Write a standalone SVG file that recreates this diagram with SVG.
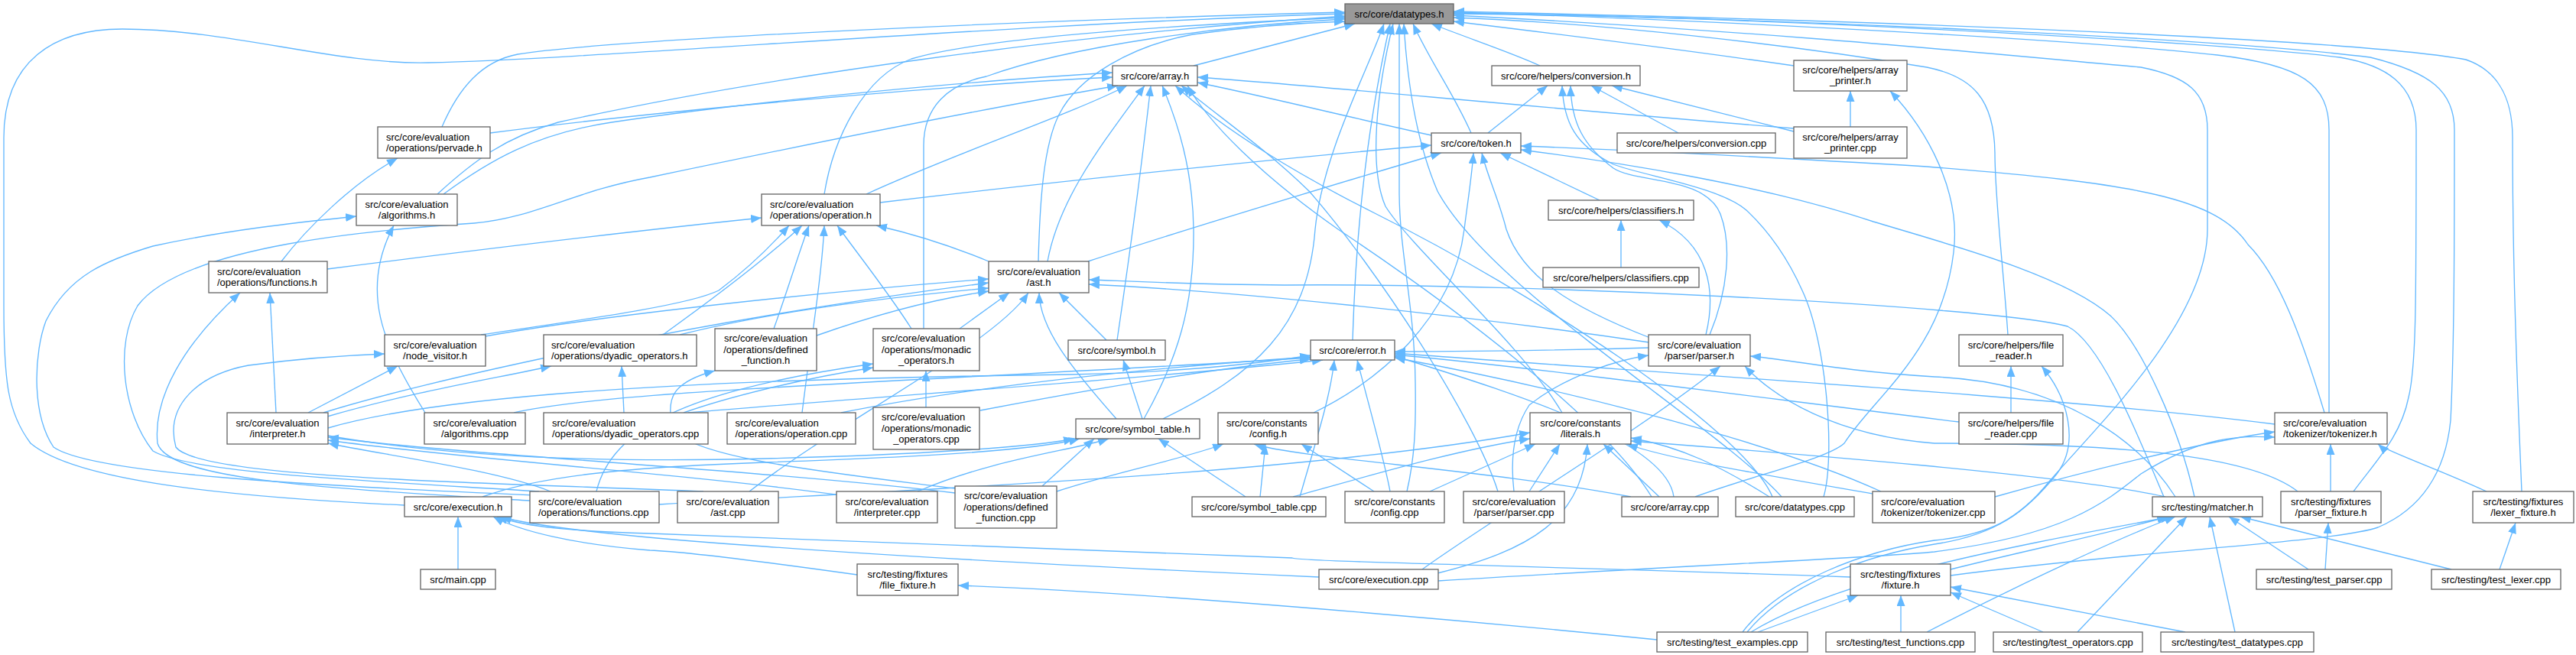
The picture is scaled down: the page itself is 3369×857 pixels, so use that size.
<svg xmlns="http://www.w3.org/2000/svg" width="3369" height="857" viewBox="0 0 3369 857">
<style>
.n rect{fill:#fff;stroke:#666;stroke-width:1.33}
.n text{font-family:"Liberation Sans",Arial,Helvetica,sans-serif;font-size:13px;fill:#000;text-anchor:middle}
.n text.l{text-anchor:start}
.e path{fill:none;stroke:#63b8ff;stroke-width:1.33;marker-end:url(#a)}
</style>
<defs><marker id="a" markerUnits="userSpaceOnUse" markerWidth="15" markerHeight="12" refX="14" refY="5.5" orient="auto"><path d="M0,0 L14,5.5 L0,11 z" fill="#63b8ff"/></marker></defs>
<rect width="3369" height="857" fill="#fff"/>
<g id="edges" class="e">
<path d="M1561,86 C1630,68 1700,50 1772,31"/>
<path d="M2014,86 C1980,70 1920,50 1872,31"/>
<path d="M2346,86 C2200,65 2000,40 1901,28"/>
<path d="M1924,174 C1900,120 1870,80 1848,31"/>
<path d="M1769,445 C1772,350 1780,200 1818,31"/>
<path d="M1521,548 C1640,490 1710,430 1720,300 C1730,200 1790,90 1810,31"/>
<path d="M1840,643 C1850,600 1852,560 1851,500 C1850,400 1830,330 1830,250 L1830,31"/>
<path d="M578,166 C600,115 630,80 677,71 C800,52 1300,28 1759,16"/>
<path d="M529,661 C300,650 100,630 40,580 C10,540 5,500 5,400 L5,180 C5,80 70,38 160,38 C300,38 440,85 560,82 C800,76 1300,32 1759,18"/>
<path d="M572,254 C620,210 660,180 730,160 C1000,100 1400,45 1759,21"/>
<path d="M1078,254 C1090,180 1130,100 1192,77 C1300,45 1600,30 1759,23"/>
<path d="M1208,430 L1208,190 C1208,140 1240,110 1290,100 C1400,60 1600,33 1759,25"/>
<path d="M1358,342 C1360,260 1365,190 1385,150 C1410,100 1480,60 1560,45 C1640,34 1700,30 1759,28"/>
<path d="M2626,438 C2620,350 2609,260 2609,200 C2608,130 2580,100 2520,88 C2350,60 2100,30 1901,23"/>
<path d="M3046,540 L3046,170 C3046,110 3010,85 2900,72 C2700,50 2200,25 1901,16"/>
<path d="M3078,643 C3110,600 3140,570 3150,520 C3160,480 3160,400 3160,170 C3160,110 3120,85 3060,75 C2900,55 2300,22 1901,17"/>
<path d="M2551,753 C2800,720 3050,710 3110,690 C3180,660 3200,600 3205,550 C3210,450 3210,300 3210,170 C3210,120 3180,95 3100,75 C2900,50 2300,22 1901,18"/>
<path d="M3298,643 C3292,500 3286,350 3286,180 C3286,120 3260,90 3225,78 C3100,55 2600,30 1901,15"/>
<path d="M2279,827 C2330,760 2440,720 2530,707 C2600,700 2640,680 2680,630 C2740,560 2887,420 2887,300 L2887,170 C2887,120 2860,100 2800,88 C2600,70 2300,40 1901,20"/>
<path d="M2043,540 C1990,450 1850,330 1812,270 C1790,220 1800,120 1822,31"/>
<path d="M2330,650 C2250,560 1950,380 1880,250 C1850,180 1840,100 1836,31"/>
<path d="M641,174 C900,140 1300,108 1455,101"/>
<path d="M580,254 C640,210 700,175 800,160 C1000,130 1300,104 1455,95"/>
<path d="M1133,254 C1250,200 1400,150 1474,112"/>
<path d="M1370,342 C1385,260 1440,190 1497,112"/>
<path d="M1461,445 C1475,350 1495,200 1505,112"/>
<path d="M1496,548 C1540,470 1562,400 1561,300 C1560,220 1540,160 1520,112"/>
<path d="M1872,177 C1750,150 1650,125 1566,108"/>
<path d="M2346,168 C2000,140 1700,110 1566,101"/>
<path d="M1959,643 C1930,550 1800,350 1712,250 C1650,190 1590,150 1545,112"/>
<path d="M2318,650 C2280,560 2000,380 1800,280 C1700,230 1600,170 1537,112"/>
<path d="M705,643 C500,630 250,620 200,590 C160,540 150,450 180,400 C240,320 500,300 620,292 C700,285 750,250 850,232 C1050,190 1300,140 1462,112"/>
<path d="M2160,650 C2100,550 1900,400 1750,300 C1650,230 1580,160 1553,112"/>
<path d="M1946,174 L2024,112"/>
<path d="M2195,174 L2081,112"/>
<path d="M2346,172 L2108,112"/>
<path d="M2236,438 C2260,380 2265,320 2250,280 C2230,230 2140,240 2110,220 C2070,190 2055,160 2054,112"/>
<path d="M2385,650 C2400,600 2390,450 2357,380 C2330,320 2300,290 2284,275 C2250,245 2150,230 2110,215 C2060,190 2045,160 2043,112"/>
<path d="M2420,166 L2420,119"/>
<path d="M2217,650 C2300,620 2390,600 2412,580 C2450,520 2540,460 2555,330 C2565,250 2520,170 2472,119"/>
<path d="M1151,265 C1400,235 1700,205 1872,190"/>
<path d="M1423,342 C1550,300 1750,240 1885,200"/>
<path d="M1718,540 C1800,500 1900,420 1915,300 C1920,260 1925,230 1927,200"/>
<path d="M2158,442 C2050,400 1990,360 1970,300 C1960,260 1945,230 1938,200"/>
<path d="M2092,262 L1962,200"/>
<path d="M3040,540 C3010,440 2980,360 2940,320 C2900,260 2800,240 2520,218 C2300,205 2100,195 1989,191"/>
<path d="M2870,650 C2850,560 2800,450 2760,413 C2700,360 2550,320 2450,290 C2300,240 2100,210 1989,196"/>
<path d="M2120,350 L2120,288"/>
<path d="M2231,438 C2245,380 2235,320 2170,288"/>
<path d="M368,342 C400,300 460,240 520,207"/>
<path d="M556,540 C500,450 470,380 515,295"/>
<path d="M700,648 C400,635 120,620 70,585 C40,540 45,460 60,420 C90,360 140,340 200,322 C300,300 400,290 466,283"/>
<path d="M428,352 C600,330 850,300 996,285"/>
<path d="M629,438 C750,420 900,400 940,380 C980,350 1010,320 1032,295"/>
<path d="M867,438 C920,400 1000,340 1049,295"/>
<path d="M1012,430 C1030,380 1045,330 1058,295"/>
<path d="M1049,540 C1060,450 1075,360 1078,295"/>
<path d="M1192,430 C1160,380 1120,330 1095,295"/>
<path d="M1293,342 C1240,320 1190,305 1146,295"/>
<path d="M361,540 L353,383"/>
<path d="M693,655 C450,640 220,630 206,580 C200,520 240,450 314,383"/>
<path d="M629,441 C800,410 1100,380 1293,365"/>
<path d="M423,540 C550,500 900,420 1293,370"/>
<path d="M889,438 C1000,410 1150,390 1293,377"/>
<path d="M1068,439 C1150,410 1230,390 1293,381"/>
<path d="M1255,430 L1320,383"/>
<path d="M1460,548 C1400,480 1360,430 1359,383"/>
<path d="M1447,445 L1385,383"/>
<path d="M2157,448 C1900,410 1600,380 1424,372"/>
<path d="M2830,650 C2800,580 2750,450 2704,427 C2600,400 2000,370 1680,373 C1550,372 1480,368 1424,366"/>
<path d="M980,643 C1100,550 1300,450 1345,383"/>
<path d="M403,540 L520,479"/>
<path d="M920,643 C600,630 260,625 230,585 C215,530 260,490 325,478 C400,468 450,465 503,463"/>
<path d="M816,540 L813,479"/>
<path d="M428,545 C550,510 650,495 721,479"/>
<path d="M1211,533 L1211,485"/>
<path d="M780,643 C800,560 900,510 1142,476"/>
<path d="M894,540 C950,520 1050,495 1142,481"/>
<path d="M1255,640 C1100,620 900,600 880,560 C870,520 880,500 935,485"/>
<path d="M1494,548 L1469,471"/>
<path d="M429,570 C600,600 800,605 1000,600 C1200,595 1350,585 1405,574"/>
<path d="M631,650 C700,625 800,612 1000,605 C1200,598 1350,590 1412,574"/>
<path d="M1363,636 L1431,574"/>
<path d="M1629,650 L1515,574"/>
<path d="M1200,643 C1300,600 1400,590 1450,574"/>
<path d="M1797,643 L1702,581"/>
<path d="M1382,643 C1450,620 1550,600 1600,581"/>
<path d="M2133,650 C1950,615 1700,600 1640,581"/>
<path d="M1648,650 L1655,581"/>
<path d="M1980,643 C1975,600 1980,560 2000,530 C2050,490 2120,470 2156,465"/>
<path d="M1860,745 C1950,680 2150,560 2250,479"/>
<path d="M3005,643 C2950,600 2800,580 2530,580 C2400,570 2320,520 2282,479"/>
<path d="M2845,650 C2800,580 2700,500 2530,493 C2400,485 2340,470 2289,466"/>
<path d="M2630,540 L2630,479"/>
<path d="M2285,827 C2340,760 2450,725 2530,712 C2610,700 2650,670 2690,620 C2720,580 2705,520 2670,479"/>
<path d="M429,560 C600,510 1000,495 1400,490 C1550,487 1650,475 1714,465"/>
<path d="M672,540 C800,510 1200,500 1714,468"/>
<path d="M1100,540 C1300,500 1550,478 1714,467"/>
<path d="M1282,537 C1450,505 1600,480 1714,470"/>
<path d="M900,540 C1200,515 1500,495 1730,471"/>
<path d="M1818,643 C1810,600 1790,530 1775,471"/>
<path d="M1700,650 C1720,580 1740,520 1745,471"/>
<path d="M2156,455 C2050,458 1900,460 1824,460"/>
<path d="M2189,650 C2180,580 2000,520 1824,466"/>
<path d="M2975,555 C2700,520 2200,490 1824,462"/>
<path d="M2460,643 C2300,570 2000,500 1824,468"/>
<path d="M2562,552 C2300,520 2000,480 1824,464"/>
<path d="M1870,643 L2008,581"/>
<path d="M2000,643 L2040,581"/>
<path d="M1880,750 C2000,720 2070,680 2076,581"/>
<path d="M2170,650 L2097,581"/>
<path d="M2460,648 C2300,620 2180,600 2128,581"/>
<path d="M1691,650 C1800,620 1900,590 2001,574"/>
<path d="M862,660 C1200,640 1700,620 2001,566"/>
<path d="M2314,650 C2250,610 2200,585 2133,573"/>
<path d="M2832,650 C2700,620 2300,590 2133,577"/>
<path d="M2609,650 C2750,610 2900,575 2975,565"/>
<path d="M3048,643 L3048,581"/>
<path d="M3252,643 C3180,610 3120,590 3110,581"/>
<path d="M1881,760 C2200,740 2450,730 2530,722 C2700,700 2750,660 2800,620 C2880,570 2930,570 2975,572"/>
<path d="M2520,827 C2650,760 2780,700 2845,676"/>
<path d="M2717,827 L2860,676"/>
<path d="M2923,827 L2890,676"/>
<path d="M3019,745 L2915,676"/>
<path d="M3206,745 L2930,676"/>
<path d="M2551,745 C2650,720 2750,700 2835,676"/>
<path d="M2290,827 C2400,760 2600,720 2840,676"/>
<path d="M2299,827 L2430,779"/>
<path d="M2486,827 L2486,779"/>
<path d="M2672,827 L2551,775"/>
<path d="M2858,827 L2551,768"/>
<path d="M3041,745 L3045,684"/>
<path d="M3269,745 L3290,684"/>
<path d="M599,745 L599,676"/>
<path d="M1121,752 C1000,735 900,722 850,720 C750,712 680,695 645,676"/>
<path d="M2420,755 C2000,740 1700,735 1690,730 C1200,710 900,700 850,698 C750,695 690,690 650,676"/>
<path d="M1725,755 C1500,745 1200,730 1000,715 C850,705 700,690 655,676"/>
<path d="M2167,837 C1900,810 1500,775 1253,766"/>
<path d="M720,643 C650,615 500,595 429,580"/>
<path d="M1100,648 C900,620 600,600 429,576"/>
<path d="M1249,645 C1000,615 600,595 429,572"/>
</g>
<g id="datatypes_h" class="n"><rect x="1759" y="5" width="142" height="26" style="fill:#999"/><text x="1830" y="22.5">src/core/datatypes.h</text></g>
<g id="array_h" class="n"><rect x="1455" y="86" width="111" height="26"/><text x="1510.5" y="103.5">src/core/array.h</text></g>
<g id="conversion_h" class="n"><rect x="1951" y="86" width="194" height="26"/><text x="2048" y="103.5">src/core/helpers/conversion.h</text></g>
<g id="array_printer_h" class="n"><rect x="2346" y="79" width="148" height="40"/><text x="2420" y="96">src/core/helpers/array</text><text x="2420" y="110">_printer.h</text></g>
<g id="pervade_h" class="n"><rect x="494" y="166" width="147" height="41"/><text class="l" x="505" y="183.5">src/core/evaluation</text><text class="l" x="505" y="197.5">/operations/pervade.h</text></g>
<g id="token_h" class="n"><rect x="1872" y="174" width="117" height="26"/><text x="1930.5" y="191.5">src/core/token.h</text></g>
<g id="conversion_cpp" class="n"><rect x="2115" y="174" width="207" height="26"/><text x="2218.5" y="191.5">src/core/helpers/conversion.cpp</text></g>
<g id="array_printer_cpp" class="n"><rect x="2346" y="166" width="148" height="41"/><text x="2420" y="183.5">src/core/helpers/array</text><text x="2420" y="197.5">_printer.cpp</text></g>
<g id="algorithms_h" class="n"><rect x="466" y="254" width="132" height="41"/><text x="532" y="271.5">src/core/evaluation</text><text x="532" y="285.5">/algorithms.h</text></g>
<g id="operation_h" class="n"><rect x="996" y="254" width="155" height="41"/><text class="l" x="1007" y="271.5">src/core/evaluation</text><text class="l" x="1007" y="285.5">/operations/operation.h</text></g>
<g id="classifiers_h" class="n"><rect x="2025" y="262" width="190" height="26"/><text x="2120" y="279.5">src/core/helpers/classifiers.h</text></g>
<g id="functions_h" class="n"><rect x="273" y="342" width="155" height="41"/><text class="l" x="284" y="359.5">src/core/evaluation</text><text class="l" x="284" y="373.5">/operations/functions.h</text></g>
<g id="ast_h" class="n"><rect x="1293" y="342" width="131" height="41"/><text x="1358.5" y="359.5">src/core/evaluation</text><text x="1358.5" y="373.5">/ast.h</text></g>
<g id="classifiers_cpp" class="n"><rect x="2018" y="350" width="204" height="26"/><text x="2120" y="367.5">src/core/helpers/classifiers.cpp</text></g>
<g id="node_visitor_h" class="n"><rect x="503" y="438" width="132" height="41"/><text x="569" y="455.5">src/core/evaluation</text><text x="569" y="469.5">/node_visitor.h</text></g>
<g id="dyadic_operators_h" class="n"><rect x="711" y="438" width="200" height="41"/><text class="l" x="721" y="455.5">src/core/evaluation</text><text class="l" x="721" y="469.5">/operations/dyadic_operators.h</text></g>
<g id="defined_function_h" class="n"><rect x="935" y="430" width="133" height="55"/><text x="1001.5" y="447">src/core/evaluation</text><text x="1001.5" y="461.5">/operations/defined</text><text x="1001.5" y="476">_function.h</text></g>
<g id="monadic_operators_h" class="n"><rect x="1142" y="430" width="139" height="55"/><text class="l" x="1153" y="447">src/core/evaluation</text><text class="l" x="1153" y="461.5">/operations/monadic</text><text x="1211.5" y="476">_operators.h</text></g>
<g id="symbol_h" class="n"><rect x="1397" y="445" width="127" height="26"/><text x="1460.5" y="462.5">src/core/symbol.h</text></g>
<g id="error_h" class="n"><rect x="1714" y="445" width="110" height="26"/><text x="1769" y="462.5">src/core/error.h</text></g>
<g id="parser_h" class="n"><rect x="2156" y="438" width="133" height="41"/><text x="2222.5" y="455.5">src/core/evaluation</text><text x="2222.5" y="469.5">/parser/parser.h</text></g>
<g id="file_reader_h" class="n"><rect x="2562" y="438" width="136" height="41"/><text x="2630" y="455.5">src/core/helpers/file</text><text x="2630" y="469.5">_reader.h</text></g>
<g id="interpreter_h" class="n"><rect x="297" y="540" width="132" height="41"/><text x="363" y="557.5">src/core/evaluation</text><text x="363" y="571.5">/interpreter.h</text></g>
<g id="algorithms_cpp" class="n"><rect x="555" y="540" width="132" height="41"/><text x="621" y="557.5">src/core/evaluation</text><text x="621" y="571.5">/algorithms.cpp</text></g>
<g id="dyadic_operators_cpp" class="n"><rect x="711" y="540" width="215" height="41"/><text class="l" x="722" y="557.5">src/core/evaluation</text><text class="l" x="722" y="571.5">/operations/dyadic_operators.cpp</text></g>
<g id="operation_cpp" class="n"><rect x="951" y="540" width="168" height="41"/><text class="l" x="961.5" y="557.5">src/core/evaluation</text><text class="l" x="961.5" y="571.5">/operations/operation.cpp</text></g>
<g id="monadic_operators_cpp" class="n"><rect x="1142" y="533" width="139" height="55"/><text class="l" x="1153" y="550">src/core/evaluation</text><text class="l" x="1153" y="564.5">/operations/monadic</text><text x="1211.5" y="579">_operators.cpp</text></g>
<g id="symbol_table_h" class="n"><rect x="1407" y="548" width="162" height="26"/><text x="1488" y="565.5">src/core/symbol_table.h</text></g>
<g id="config_h" class="n"><rect x="1593" y="540" width="131" height="41"/><text class="l" x="1604" y="557.5">src/core/constants</text><text x="1658.5" y="571.5">/config.h</text></g>
<g id="literals_h" class="n"><rect x="2001" y="540" width="132" height="41"/><text x="2067" y="557.5">src/core/constants</text><text x="2067" y="571.5">/literals.h</text></g>
<g id="file_reader_cpp" class="n"><rect x="2562" y="540" width="136" height="41"/><text x="2630" y="557.5">src/core/helpers/file</text><text x="2630" y="571.5">_reader.cpp</text></g>
<g id="tokenizer_h" class="n"><rect x="2975" y="540" width="147" height="41"/><text class="l" x="2986" y="557.5">src/core/evaluation</text><text class="l" x="2986" y="571.5">/tokenizer/tokenizer.h</text></g>
<g id="execution_h" class="n"><rect x="529" y="650" width="140" height="26"/><text x="599" y="667.5">src/core/execution.h</text></g>
<g id="functions_cpp" class="n"><rect x="693" y="643" width="169" height="41"/><text class="l" x="704" y="660.5">src/core/evaluation</text><text class="l" x="704" y="674.5">/operations/functions.cpp</text></g>
<g id="ast_cpp" class="n"><rect x="886" y="643" width="132" height="41"/><text x="952" y="660.5">src/core/evaluation</text><text x="952" y="674.5">/ast.cpp</text></g>
<g id="interpreter_cpp" class="n"><rect x="1094" y="643" width="132" height="41"/><text x="1160" y="660.5">src/core/evaluation</text><text x="1160" y="674.5">/interpreter.cpp</text></g>
<g id="defined_function_cpp" class="n"><rect x="1249" y="636" width="133" height="55"/><text x="1315.5" y="653">src/core/evaluation</text><text x="1315.5" y="667.5">/operations/defined</text><text x="1315.5" y="682">_function.cpp</text></g>
<g id="symbol_table_cpp" class="n"><rect x="1559" y="650" width="175" height="26"/><text x="1646.5" y="667.5">src/core/symbol_table.cpp</text></g>
<g id="config_cpp" class="n"><rect x="1759" y="643" width="130" height="41"/><text x="1824" y="660.5">src/core/constants</text><text x="1824" y="674.5">/config.cpp</text></g>
<g id="parser_cpp" class="n"><rect x="1914" y="643" width="132" height="41"/><text x="1980" y="660.5">src/core/evaluation</text><text x="1980" y="674.5">/parser/parser.cpp</text></g>
<g id="array_cpp" class="n"><rect x="2121" y="650" width="126" height="26"/><text x="2184" y="667.5">src/core/array.cpp</text></g>
<g id="datatypes_cpp" class="n"><rect x="2270" y="650" width="155" height="26"/><text x="2347.5" y="667.5">src/core/datatypes.cpp</text></g>
<g id="tokenizer_cpp" class="n"><rect x="2449" y="643" width="160" height="41"/><text class="l" x="2460" y="660.5">src/core/evaluation</text><text class="l" x="2460" y="674.5">/tokenizer/tokenizer.cpp</text></g>
<g id="matcher_h" class="n"><rect x="2815" y="650" width="144" height="26"/><text x="2887" y="667.5">src/testing/matcher.h</text></g>
<g id="parser_fixture_h" class="n"><rect x="2983" y="643" width="131" height="41"/><text x="3048.5" y="660.5">src/testing/fixtures</text><text x="3048.5" y="674.5">/parser_fixture.h</text></g>
<g id="lexer_fixture_h" class="n"><rect x="3234" y="643" width="132" height="41"/><text x="3300" y="660.5">src/testing/fixtures</text><text x="3300" y="674.5">/lexer_fixture.h</text></g>
<g id="main_cpp" class="n"><rect x="550" y="745" width="98" height="26"/><text x="599" y="762.5">src/main.cpp</text></g>
<g id="file_fixture_h" class="n"><rect x="1121" y="738" width="132" height="41"/><text x="1187" y="755.5">src/testing/fixtures</text><text x="1187" y="769.5">/file_fixture.h</text></g>
<g id="execution_cpp" class="n"><rect x="1725" y="745" width="156" height="26"/><text x="1803" y="762.5">src/core/execution.cpp</text></g>
<g id="test_parser_cpp" class="n"><rect x="2951" y="745" width="177" height="26"/><text x="3039.5" y="762.5">src/testing/test_parser.cpp</text></g>
<g id="test_lexer_cpp" class="n"><rect x="3180" y="745" width="169" height="26"/><text x="3264.5" y="762.5">src/testing/test_lexer.cpp</text></g>
<g id="fixture_h" class="n"><rect x="2420" y="738" width="131" height="41"/><text x="2485.5" y="755.5">src/testing/fixtures</text><text x="2485.5" y="769.5">/fixture.h</text></g>
<g id="test_examples_cpp" class="n"><rect x="2167" y="827" width="197" height="26"/><text x="2265.5" y="844.5">src/testing/test_examples.cpp</text></g>
<g id="test_functions_cpp" class="n"><rect x="2388" y="827" width="195" height="26"/><text x="2485.5" y="844.5">src/testing/test_functions.cpp</text></g>
<g id="test_operators_cpp" class="n"><rect x="2607" y="827" width="195" height="26"/><text x="2704.5" y="844.5">src/testing/test_operators.cpp</text></g>
<g id="test_datatypes_cpp" class="n"><rect x="2826" y="827" width="200" height="26"/><text x="2926" y="844.5">src/testing/test_datatypes.cpp</text></g>
</svg>
